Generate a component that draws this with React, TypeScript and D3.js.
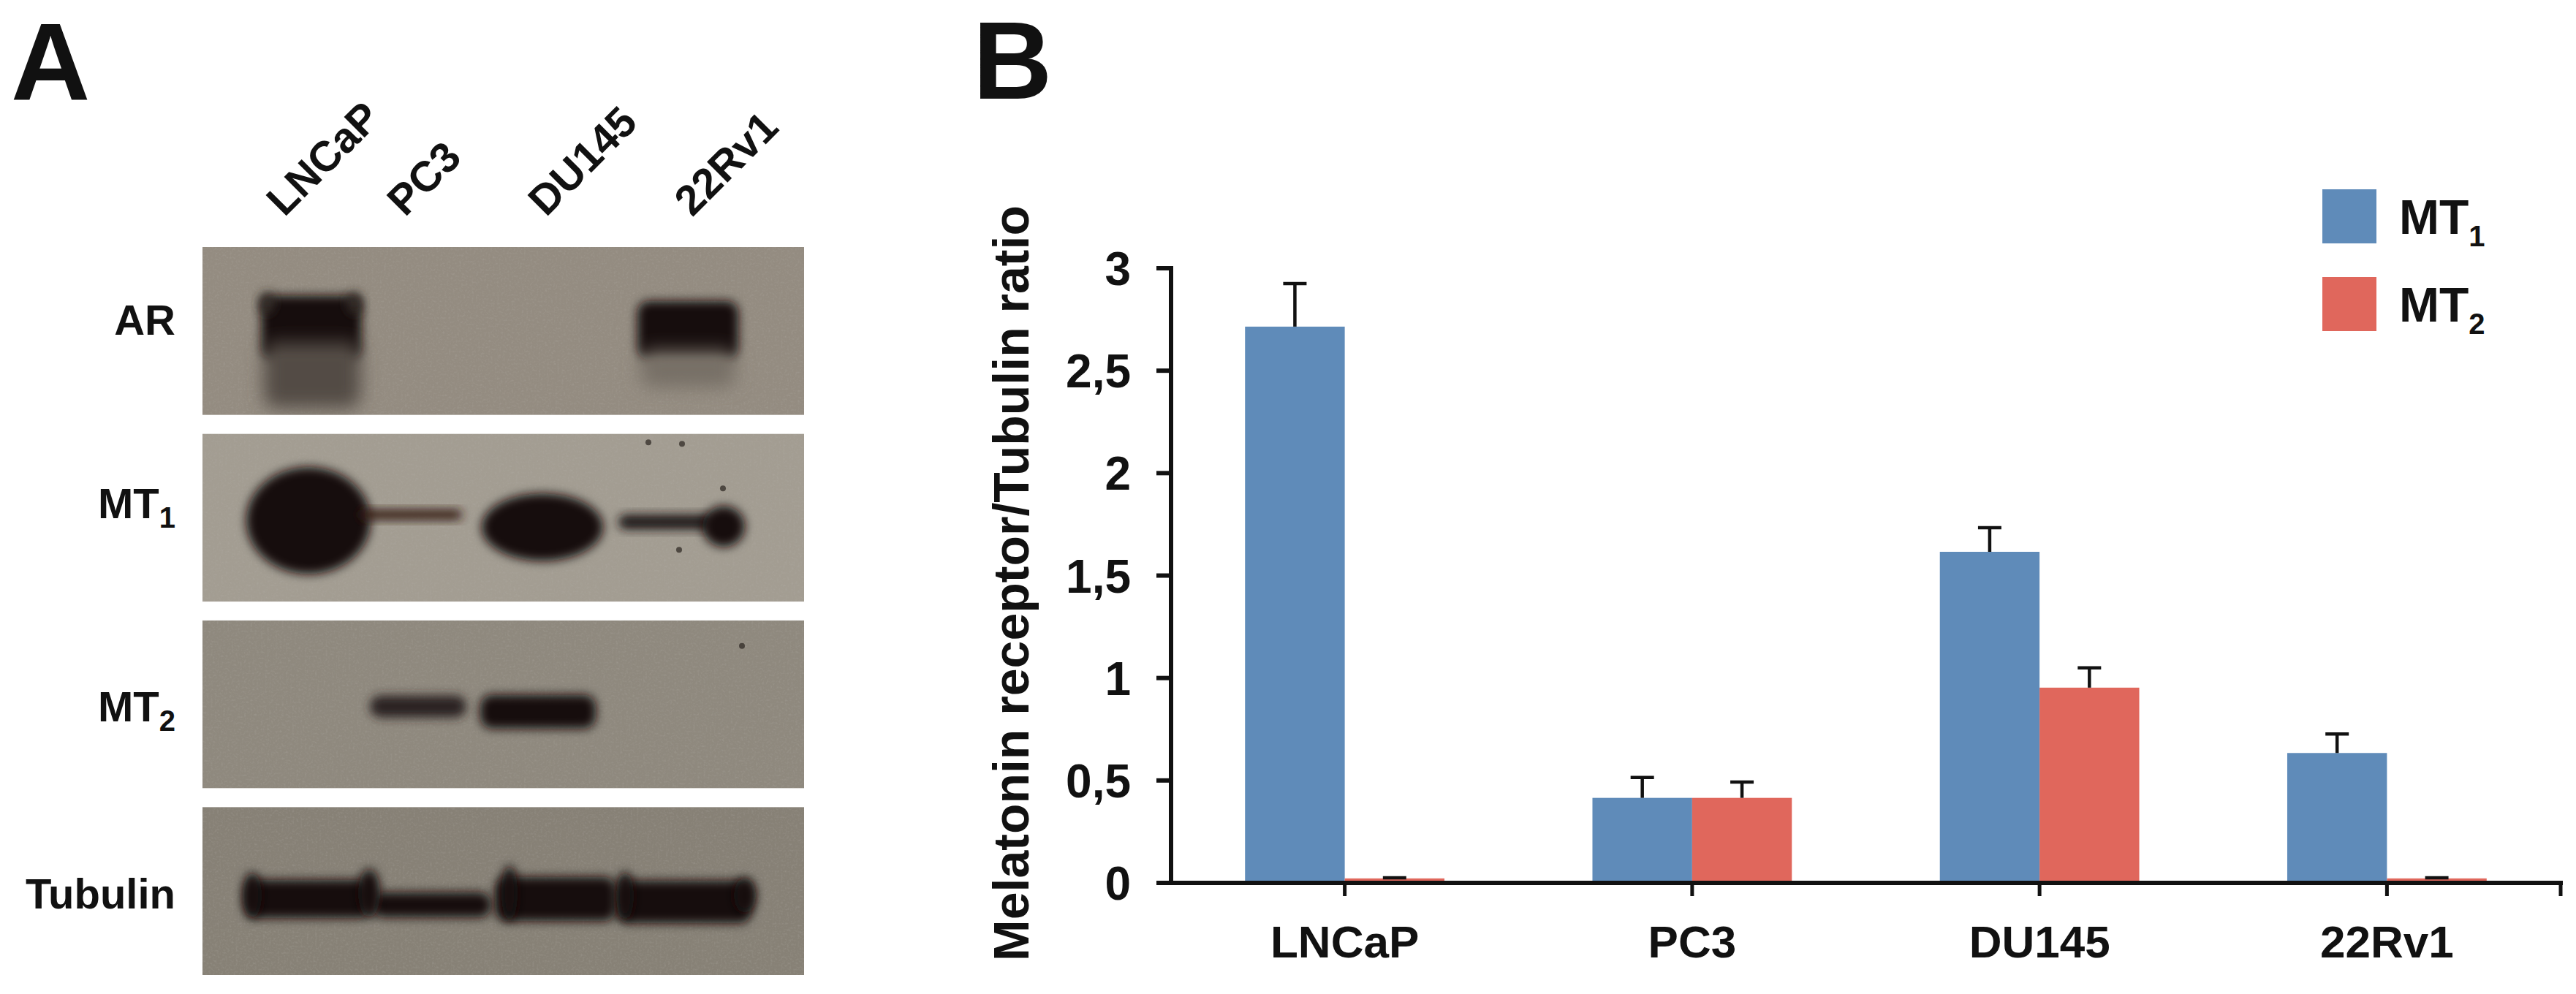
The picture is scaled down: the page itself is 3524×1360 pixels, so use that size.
import React from "react";
import * as d3 from "d3";

// ---------- Panel B data ----------
const categories = ["LNCaP", "PC3", "DU145", "22Rv1"];
const seriesNames = ["MT1", "MT2"];
const seriesSubs = ["1", "2"];
const mt1Values = [2.715, 0.415, 1.616, 0.634];
const mt2Values = [0.022, 0.415, 0.953, 0.022];
const mt1Errors = [0.21, 0.1, 0.118, 0.093];
const mt2Errors = [0.003, 0.077, 0.097, 0.003];
const yTicks = [0, 0.5, 1, 1.5, 2, 2.5, 3];
const seriesColors = ["#5f8bb9", "#e0675c"];
const yTitle = "Melatonin receptor/Tubulin ratio";

// ---------- Panel A (western blot) data ----------
const blotLanes = ["LNCaP", "PC3", "DU145", "22Rv1"];
const blotRows = ["AR", "MT1", "MT2", "Tubulin"];
const blotRowMain = ["AR", "MT", "MT", "Tubulin"];
const blotRowSub = ["", "1", "2", ""];
const blotRowTones = ["#948c81", "#a39d92", "#8f897e", "#878176"];
// band intensity (0..1 darkness) with shape per lane/row
const bandRow = ["AR", "AR", "AR", "AR", "MT1", "MT1", "MT1", "MT1", "MT1", "MT2", "MT2", "Tubulin", "Tubulin", "Tubulin", "Tubulin", "Tubulin", "Tubulin", "Tubulin", "Tubulin", "Tubulin", "AR", "AR"];
const bandLane = ["LNCaP", "LNCaP", "22Rv1", "22Rv1", "LNCaP", "PC3", "DU145", "22Rv1", "22Rv1", "PC3", "DU145", "LNCaP", "PC3", "DU145", "22Rv1", "LNCaP", "LNCaP", "DU145", "22Rv1", "22Rv1", "LNCaP", "LNCaP"];
const bandLevel = [0.97, 0.5, 0.95, 0.22, 0.97, 0.9, 0.97, 0.92, 0.97, 0.8, 0.97, 0.97, 0.95, 0.97, 0.97, 0.97, 0.97, 0.97, 0.97, 0.97, 0.75, 0.75];
const bandDx = [3, 4, 2, 2, -1, -33, -25, -28, 51, -23, -31, -2, -4, -7, -3, -78, 82, -70, -84, 80, -58, 62];
const bandDy = [-5, 60, -1, 52, 4, -4, 13, 6, 12, 3, 10, 11, 19, 11, 15, 6, 3, 3, 7, 6, -38, -38];
const bandW = [137, 132, 138, 130, 170, 140, 166, 130, 58, 132, 158, 168, 162, 165, 183, 26, 30, 22, 24, 30, 22, 22];
const bandH = [87, 90, 80, 50, 146, 14, 92, 20, 56, 30, 46, 52, 34, 60, 58, 62, 66, 76, 66, 48, 30, 30];
const bandOval = [0, 0, 0, 0, 1, 0, 1, 0, 1, 0, 0, 0, 0, 0, 0, 1, 1, 1, 1, 1, 1, 1];
const dustLane = ["22Rv1", "22Rv1", "22Rv1", "22Rv1", "22Rv1"];
const dustRow = ["MT1", "MT1", "MT1", "MT1", "MT2"];
const dustDx = [-52, -6, 50, -10, 76];
const dustDy = [-103, -101, -40, 44, -80];

const FONT = "'Liberation Sans', Arial, Helvetica, sans-serif";

export default function App() {
  const W = 3524;
  const H = 1360;

  // ----- Panel B scales -----
  const x = d3.scaleBand<string>().domain(categories).range([1602, 3503]).paddingInner(0.426).paddingOuter(0.213);
  const xs = d3.scaleBand<string>().domain(seriesNames).range([0, x.bandwidth()]);
  const y = d3.scaleLinear().domain([0, 3]).range([1208, 367]);
  const fmt = d3.formatLocale({ decimal: ",", thousands: ".", grouping: [3], currency: ["", ""] }).format("~g");
  const values = [mt1Values, mt2Values];
  const errors = [mt1Errors, mt2Errors];
  const axisX0 = x.range()[0];
  const axisX1 = x.range()[1];

  // ----- Panel A scales -----
  const lane = d3.scaleBand<string>().domain(blotLanes).range([337, 1025]);
  const row = d3.scaleBand<string>().domain(blotRows).range([338, 1334]).paddingInner(0.1);
  const boxX0 = 277;
  const boxX1 = 1100;
  const laneC = (l: string) => (lane(l) as number) + lane.bandwidth() / 2;
  const rowC = (r: string) => (row(r) as number) + row.bandwidth() / 2;
  const labelDy = [5, 1, 23, 24];
  const laneLabelX = [389, 554, 747, 947];
  const dark = "#0f0a08";

  return (
    <svg width={W} height={H} viewBox={`0 0 ${W} ${H}`} style={{ position: "absolute", left: 0, top: 0, background: "#fff" }} fontFamily={FONT}>
      <defs>
        <filter id="bandBlur" x="-50%" y="-50%" width="200%" height="200%">
          <feGaussianBlur stdDeviation="7" />
        </filter>
        <filter id="softBlur" x="-50%" y="-50%" width="200%" height="200%">
          <feGaussianBlur stdDeviation="12" />
        </filter>
        <filter id="grain" x="0" y="0" width="100%" height="100%">
          <feTurbulence type="fractalNoise" baseFrequency="0.35" numOctaves="2" seed="3" />
          <feColorMatrix type="matrix" values="0 0 0 0 0.5  0 0 0 0 0.48  0 0 0 0 0.45  0.6 0.6 0 0 -0.55" />
        </filter>
        {blotRows.map((r) => (
          <clipPath id={`clip-${r}`} key={r}>
            <rect x={boxX0} y={row(r)} width={boxX1 - boxX0} height={row.bandwidth()} />
          </clipPath>
        ))}
      </defs>
      <rect x={0} y={0} width={W} height={H} fill="#fff" />

      {/* ================= Panel A ================= */}
      <text x={15} y={136} fontSize={150} fontWeight="bold" fill="#111">A</text>
      {blotLanes.map((l, i) => (
        <text key={l} transform={`translate(${laneLabelX[i]},298) rotate(-45)`} fontSize={58} fontWeight="bold" fill="#111">
          {l}
        </text>
      ))}
      {blotRows.map((r, ri) => (
        <g key={r}>
          <g clipPath={`url(#clip-${r})`}>
            <rect x={boxX0} y={row(r)} width={boxX1 - boxX0} height={row.bandwidth()} fill={blotRowTones[ri]} />
            <rect x={boxX0} y={row(r)} width={boxX1 - boxX0} height={row.bandwidth()} filter="url(#grain)" opacity={0.5} />
            {bandRow.map((br, bi) => {
              if (br !== r) return null;
              const cx = laneC(bandLane[bi]) + bandDx[bi];
              const cy = rowC(r) + bandDy[bi];
              const w = bandW[bi];
              const h = bandH[bi];
              const col = bandLane[bi] === "PC3" && r === "MT1" ? "#2a0c08" : dark;
              const fill = d3.interpolateRgb(blotRowTones[ri], col)(bandLevel[bi]);
              return (
                <rect
                  key={bi}
                  x={cx - w / 2}
                  y={cy - h / 2}
                  width={w}
                  height={h}
                  rx={bandOval[bi] ? w / 2 : Math.min(h / 2, 16)}
                  ry={bandOval[bi] ? h / 2 : Math.min(h / 2, 16)}
                  fill={fill}
                  filter={bandLevel[bi] < 0.6 ? "url(#softBlur)" : "url(#bandBlur)"}
                />
              );
            })}
            {dustRow.map((dr, di) =>
              dr === r ? (
                <circle key={di} cx={laneC(dustLane[di]) + dustDx[di]} cy={rowC(r) + dustDy[di]} r={4} fill="#2a2420" opacity={0.7} />
              ) : null
            )}
          </g>
          <text x={240} y={rowC(r) + labelDy[ri]} textAnchor="end" fontSize={58} fontWeight="bold" fill="#111">
            {blotRowMain[ri]}
            {blotRowSub[ri] ? (
              <tspan fontSize={40} dy={13}>
                {blotRowSub[ri]}
              </tspan>
            ) : null}
          </text>
        </g>
      ))}

      {/* ================= Panel B ================= */}
      <text x={1331} y={135} fontSize={150} fontWeight="bold" fill="#111">B</text>

      {/* bars */}
      {categories.map((c, ci) =>
        seriesNames.map((s, si) => {
          const v = values[si][ci];
          const bx = (x(c) as number) + (xs(s) as number);
          return (
            <rect key={`${c}-${s}`} x={bx} y={y(v)} width={xs.bandwidth()} height={y(0) - y(v)} fill={seriesColors[si]} />
          );
        })
      )}
      {/* error bars */}
      {categories.map((c, ci) =>
        seriesNames.map((s, si) => {
          const v = values[si][ci];
          const e = errors[si][ci];
          const cx = (x(c) as number) + (xs(s) as number) + xs.bandwidth() / 2;
          return (
            <g key={`e-${c}-${s}`} stroke="#111" strokeWidth={4.5}>
              <line x1={cx} x2={cx} y1={y(v)} y2={y(v + e)} />
              <line x1={cx - 16} x2={cx + 16} y1={y(v + e)} y2={y(v + e)} />
            </g>
          );
        })
      )}

      {/* y axis */}
      <line x1={axisX0} x2={axisX0} y1={y(3) - 3} y2={y(0) + 3} stroke="#111" strokeWidth={6} />
      {yTicks.map((t) => (
        <g key={t}>
          <line x1={axisX0 - 20} x2={axisX0} y1={y(t)} y2={y(t)} stroke="#111" strokeWidth={6} />
          <text x={1547} y={y(t) + 23} textAnchor="end" fontSize={64} fontWeight="bold" fill="#111">
            {fmt(t)}
          </text>
        </g>
      ))}
      <text transform={`translate(1407,798) rotate(-90)`} textAnchor="middle" fontSize={68} fontWeight="bold" fill="#111">
        {yTitle}
      </text>

      {/* x axis */}
      <line x1={axisX0 - 3} x2={axisX1 + 3} y1={y(0)} y2={y(0)} stroke="#111" strokeWidth={6} />
      {categories.map((c) => {
        const cx = (x(c) as number) + x.bandwidth() / 2;
        return (
          <g key={c}>
            <line x1={cx} x2={cx} y1={y(0)} y2={y(0) + 18} stroke="#111" strokeWidth={5} />
            <text x={cx} y={1310} textAnchor="middle" fontSize={62} fontWeight="bold" fill="#111">
              {c}
            </text>
          </g>
        );
      })}
      <line x1={axisX1} x2={axisX1} y1={y(0)} y2={y(0) + 18} stroke="#111" strokeWidth={5} />

      {/* legend */}
      {seriesNames.map((s, si) => (
        <g key={s}>
          <rect x={3177} y={259 + si * 120} width={74} height={74} fill={seriesColors[si]} />
          <text x={3282} y={320 + si * 120} fontSize={66} fontWeight="bold" fill="#111">
            MT
            <tspan fontSize={40} dy={17}>
              {seriesSubs[si]}
            </tspan>
          </text>
        </g>
      ))}
    </svg>
  );
}
